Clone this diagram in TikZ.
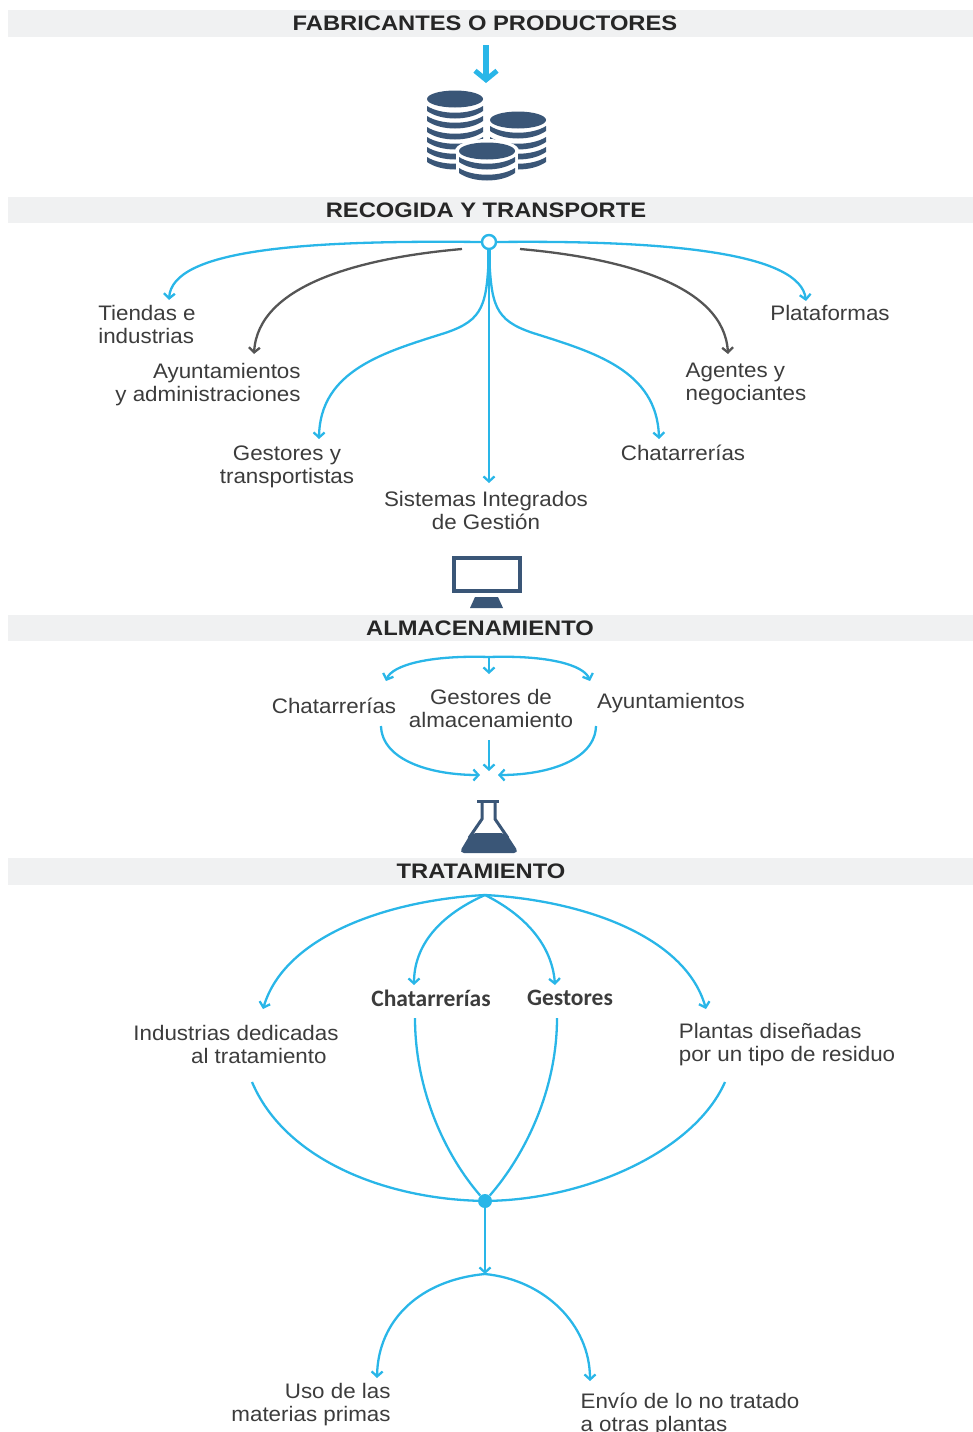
\documentclass[tikz,border=0pt]{standalone}
\usepackage{fontspec}
\setmainfont[FakeStretch=1.065,BoldFeatures={FakeStretch=1.13}]{Liberation Sans}
\newfontfamily\narrowfont{Carlito}
\usetikzlibrary{arrows.meta}
\definecolor{bandgray}{HTML}{F0F1F2}
\definecolor{linkblue}{HTML}{29B6E8}
\definecolor{iconblue}{HTML}{3A5677}
\definecolor{linkgray}{HTML}{555555}
\definecolor{labelgray}{HTML}{3C3C3C}
\tikzset{
  band/.style={fill=bandgray,draw=none},
  heading/.style={font=\fontsize{21}{23}\selectfont\bfseries,text=black!85},
  label/.style={font=\fontsize{21}{23}\selectfont,text=labelgray,inner sep=0pt},
  narrowlabel/.style={font=\fontsize{23.5}{25}\selectfont\narrowfont\bfseries,text=labelgray,inner sep=0pt},
  link/.style={draw=linkblue,line width=2.3pt,-{Straight Barb[length=5pt,width=11pt,line width=2.3pt]}},
  plainlink/.style={draw=linkblue,line width=2.3pt},
  graylink/.style={draw=linkgray,line width=2.3pt,-{Straight Barb[length=5pt,width=11pt,line width=2.3pt]}},
}
% one dark band under a coin
\newcommand{\coinband}[2]{
  \fill[iconblue] (#1-28,#2-6) .. controls (#1-14,#2+3) and (#1+14,#2+3) .. (#1+28,#2-6)
    -- (#1+28,#2-1) .. controls (#1+14,#2+9) and (#1-14,#2+9) .. (#1-28,#2-1) -- cycle;
}
\begin{document}
\begin{tikzpicture}[x=1pt,y=-1pt]
\useasboundingbox (0,0) rectangle (973,1432);
% Bands:
\fill[band] (8,10) rectangle (973,37);
\fill[band] (8,197) rectangle (973,223);
\fill[band] (8,615) rectangle (973,641);
\fill[band] (8,858) rectangle (973,885);
\node (fabricantes) [heading] at (485,23) {FABRICANTES O PRODUCTORES};
\node (recogida) [heading] at (486,210) {RECOGIDA Y TRANSPORTE};
\node (almacen) [heading] at (480,628) {ALMACENAMIENTO};
\node (tratamiento) [heading] at (481,871) {TRATAMIENTO};
% Coins:
\coordinate (coinstop) at (486,83);
\draw[draw=linkblue,line width=6pt,-{Straight Barb[length=9pt,width=22pt,line width=5pt]}] (486,45)--(coinstop);
\fill[iconblue] (455,99) ellipse [x radius=28,y radius=8.5];
\foreach \y in {112,122,133,143,153,163} {\coinband{455}{\y}}
\fill[iconblue] (518,120) ellipse [x radius=28,y radius=8.5];
\foreach \y in {132,143,153,163} {\coinband{518}{\y}}
\fill[white] (456,151) rectangle (518,180);
\fill[white] (487,151) ellipse [x radius=32,y radius=12];
\fill[iconblue] (487,151) ellipse [x radius=28,y radius=8.5];
\foreach \y in {163,174} {\coinband{487}{\y}}
% Collection:
\node (hub) [circle,draw=linkblue,line width=2.4pt,fill=white,minimum size=14pt,inner sep=0pt] at (489,242) {};
\node (tiendas) [label,align=left] at (147,324) {Tiendas e\\industrias};
\node (ayunt) [label,align=right] at (208,385) {Ayuntamientos\\y administraciones};
\node (gestores) [label,align=left] at (287,467) {\hspace*{13pt}Gestores y\\transportistas};
\node (sistemas) [label,align=center] at (486,510) {Sistemas Integrados\\de Gestión};
\node (chatarra) [label] at (683,453) {Chatarrerías};
\node (agentes) [label,align=left] at (746,384) {Agentes y\\negociantes};
\node (plataformas) [label] at (830,313) {Plataformas};
\coordinate (tiendasin) at (169,300);
\coordinate (ayuntin) at (254,354);
\coordinate (gestoresin) at (319,439);
\coordinate (sistemasin) at (489,483);
\coordinate (chatarrain) at (659,439);
\coordinate (agentesin) at (728,354);
\coordinate (plataformasin) at (806,301);
\coordinate (grayleft) at (462,249);
\coordinate (grayright) at (520,249);
\draw[link] (hub.west) .. controls (300,240) and (172,250) .. (tiendasin);
\draw[link] (hub.east) .. controls (680,240) and (800,255) .. (plataformasin);
\draw[graylink] (grayleft) .. controls (360,258) and (258,285) .. (ayuntin);
\draw[graylink] (grayright) .. controls (622,258) and (724,285) .. (agentesin);
\draw[plainlink,line width=4pt] (hub.south) -- ++(0,32);
\draw[link] (hub.south) -- (sistemasin);
\draw[link] (hub.south) .. controls (487,305) and (484,320) .. (445,333) .. controls (385,352) and (320,370) .. (gestoresin);
\draw[link] (hub.south) .. controls (491,305) and (494,320) .. (533,333) .. controls (593,352) and (657,370) .. (chatarrain);
% Monitor:
\draw[iconblue,line width=4.6pt] (454,558) rectangle (520,591);
\fill[iconblue] (475,597)--(498,597)--(503,608)--(470,608)--cycle;
% Storage:
\coordinate (almacentop) at (489,657);
\coordinate (chatarraup) at (386,681);
\coordinate (ayuntup) at (590,681);
\coordinate (gestorup) at (489,674);
\node (chatarrb) [label] at (334,706) {Chatarrerías};
\node (gestorb) [label,align=center] at (491,708) {Gestores de\\almacenamiento};
\node (ayuntb) [label] at (671,703) {Ayuntamientos};
\coordinate (chatarradown) at (381,726);
\coordinate (ayuntdown) at (596,726);
\coordinate (gestordown) at (489,740);
\coordinate (mergeleft) at (480,775);
\coordinate (mergeright) at (498,775);
\coordinate (mergemid) at (489,771);
\draw[link] (almacentop) .. controls (430,655) and (392,665) .. (chatarraup);
\draw[link] (almacentop) .. controls (548,655) and (584,665) .. (ayuntup);
\draw[link] (almacentop)--(gestorup);
\draw[link] (chatarradown) .. controls (382,760) and (430,775) .. (mergeleft);
\draw[link] (ayuntdown) .. controls (595,760) and (548,775) .. (mergeright);
\draw[link] (gestordown)--(mergemid);
% Flask:
\draw[iconblue,line width=3pt] (477,801.5)--(499,801.5);
\draw[iconblue,line width=3pt] (482,802)--(482,819)--(469,838);
\draw[iconblue,line width=3pt] (495,802)--(495,819)--(508,838);
\fill[iconblue,rounded corners=5pt] (471,833)--(506,833)--(519,853)--(459,853)--cycle;
% Treatment:
\coordinate (tratatop) at (485,895);
\node (industrias) [label,align=right] at (236,1044) {Industrias dedicadas\\al tratamiento\hspace*{12pt}};
\node (chatarrt) [narrowlabel] at (431,998) {Chatarrerías};
\node (gestort) [narrowlabel] at (570,998) {Gestores};
\node (plantas) [label,align=left] at (787,1045) {Plantas diseñadas\\por un tipo de residuo};
\coordinate (industriasin) at (263,1009);
\coordinate (chatarrtin) at (414,985);
\coordinate (gestortin) at (555,985);
\coordinate (plantasin) at (706,1009);
\coordinate (industriasout) at (252,1082);
\coordinate (chatarrtout) at (415,1018);
\coordinate (gestortout) at (557,1018);
\coordinate (plantasout) at (725,1082);
\node (dot) [circle,fill=linkblue,minimum size=14pt,inner sep=0pt] at (485,1201) {};
\draw[link] (tratatop) .. controls (390,900) and (285,935) .. (industriasin);
\draw[link] (tratatop) .. controls (440,915) and (414,945) .. (chatarrtin);
\draw[link] (tratatop) .. controls (525,915) and (552,945) .. (gestortin);
\draw[link] (tratatop) .. controls (580,900) and (685,935) .. (plantasin);
\draw[plainlink] (industriasout) .. controls (285,1160) and (385,1198) .. (dot);
\draw[plainlink] (chatarrtout) .. controls (415,1090) and (445,1155) .. (dot);
\draw[plainlink] (gestortout) .. controls (557,1090) and (525,1155) .. (dot);
\draw[plainlink] (plantasout) .. controls (695,1150) and (590,1198) .. (dot);
% Outcome:
\coordinate (salida) at (485,1274);
\coordinate (usoin) at (377,1378);
\coordinate (envioin) at (590,1381);
\draw[link] (dot)--(salida);
\draw[link] (salida) .. controls (420,1280) and (378,1320) .. (usoin);
\draw[link] (salida) .. controls (545,1280) and (590,1325) .. (envioin);
\node (uso) [label,align=right] at (311,1405) {Uso de las\\materias primas};
\node (envio) [label,align=left] at (690,1414) {Envío de lo no tratado\\a otras plantas};
\end{tikzpicture}
\end{document}
